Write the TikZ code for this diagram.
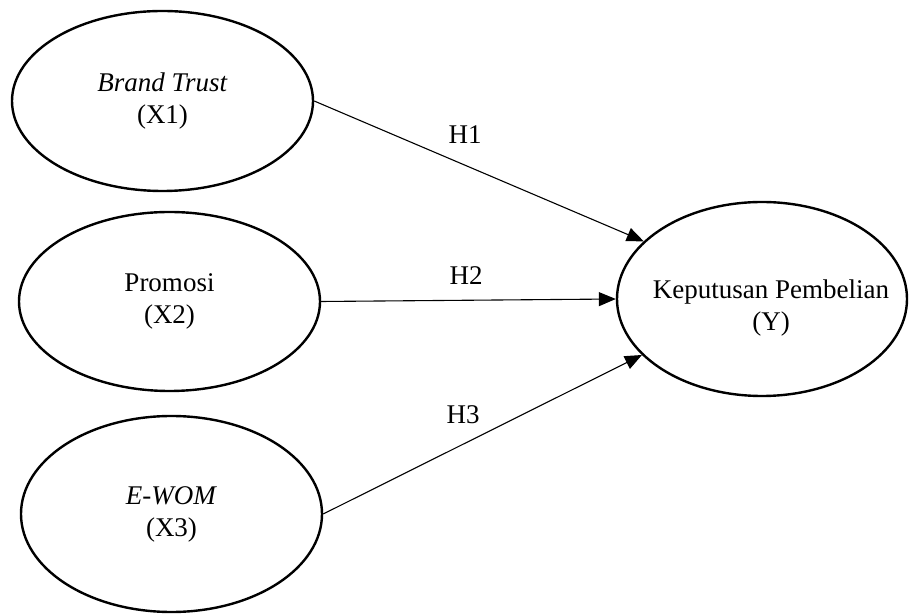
\documentclass[tikz,border=0pt]{standalone}
\usepackage{fontspec}
\setmainfont{Liberation Serif}
\usetikzlibrary{shapes.geometric,arrows.meta}
\begin{document}
\begin{tikzpicture}[x=1pt,y=1pt,
  var/.style={ellipse,draw,line width=2.4pt,inner sep=0pt,align=center,
    font=\fontsize{27}{32}\selectfont},
  conn/.style={line width=1.1pt,-{Triangle[length=17pt,width=14pt]}},
  hyp/.style={font=\fontsize{27}{32}\selectfont,inner sep=0pt}]
\useasboundingbox (0,0) rectangle (909,615);
\node[var,minimum width=301pt,minimum height=180pt] (x1) at (162.5,514) {\textit{Brand Trust}\\(X1)};
\node[var,minimum width=301pt,minimum height=179pt] (x2) at (169.5,313.5) {Promosi\\(X2)};
\node[var,minimum width=301pt,minimum height=196pt] (x3) at (171.5,101) {\textit{E-WOM}\\(X3)};
\node[var,minimum width=290pt,minimum height=194pt] (y) at (762,316) {};
\node[hyp,align=center] (ylab) at (771,307) {Keputusan Pembelian\\(Y)};
\draw[conn] (x1.east) -- (y.154.4);
\draw[conn] (x2.east) -- (y.180);
\draw[conn] (x3.east) -- (y.205.2);
\node[hyp] (h1) at (465,480) {H1};
\node[hyp] (h2) at (466,339) {H2};
\node[hyp] (h3) at (463,200) {H3};
\end{tikzpicture}
\end{document}
